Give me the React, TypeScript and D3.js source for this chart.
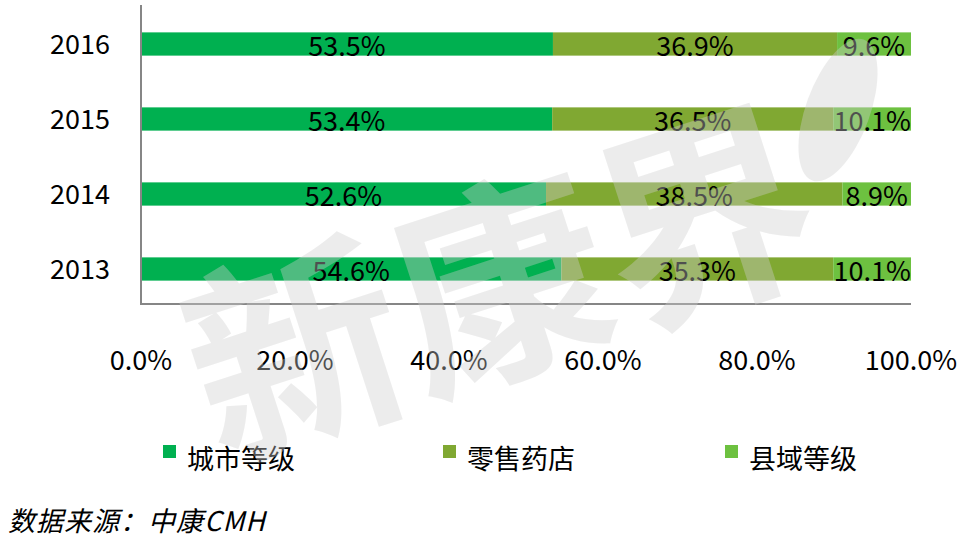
import React from "react";
import { scaleBand, scaleLinear, format } from "d3";

const years = ["2016", "2015", "2014", "2013"];
const seriesNames = ["城市等级", "零售药店", "县域等级"];
const cityLevel = [53.5, 53.4, 52.6, 54.6];
const retailPharmacy = [36.9, 36.5, 38.5, 35.3];
const countyLevel = [9.6, 10.1, 8.9, 10.1];
const tickValues = [0, 20, 40, 60, 80, 100];

const colors = ["#00B050", "#80A832", "#6DC140"];
const font = "'Noto Sans CJK SC', 'Noto Sans', sans-serif";

export default function App() {
  const width = 962;
  const height = 547;

  const xScale = scaleLinear().domain([0, 100]).range([141, 911]);
  const yScale = scaleBand()
    .domain(years)
    .range([6.5, 306.5])
    .paddingInner(0.69)
    .paddingOuter(0.345);

  const series = [cityLevel, retailPharmacy, countyLevel];
  const pct = format(".1f");

  // legend positions
  const legendX = [163, 443, 725];

  return (
    <svg
      width={width}
      height={height}
      style={{ position: "absolute", left: 0, top: 0, background: "#fff" }}
      fontFamily={font}
    >
      {/* Bars */}
      {years.map((year, i) => {
        let acc = 0;
        return (
          <g key={year}>
            {series.map((s, j) => {
              const x0 = acc;
              acc += s[i];
              const bx = xScale(x0);
              const bw = xScale(acc) - xScale(x0);
              const cy = yScale(year)! + yScale.bandwidth() / 2;
              return (
                <g key={j}>
                  <rect
                    x={bx}
                    y={yScale(year)}
                    width={bw}
                    height={yScale.bandwidth()}
                    fill={colors[j]}
                  />
                  <text
                    x={bx + bw / 2}
                    y={cy + 12}
                    textAnchor="middle"
                    fontSize={27}
                    fill="#000"
                  >
                    {pct(s[i])}%
                  </text>
                </g>
              );
            })}
          </g>
        );
      })}

      {/* Axes */}
      <line x1={141} x2={141} y1={5} y2={304} stroke="#868686" strokeWidth={2} />
      <line x1={140} x2={911} y1={304} y2={304} stroke="#868686" strokeWidth={2} />

      {/* Year labels */}
      {years.map((year) => (
        <text
          key={year}
          x={110}
          y={yScale(year)! + yScale.bandwidth() / 2 + 10}
          textAnchor="end"
          fontSize={27}
          fill="#000"
        >
          {year}
        </text>
      ))}

      {/* X tick labels */}
      {tickValues.map((v) => (
        <text
          key={v}
          x={xScale(v)}
          y={370}
          textAnchor="middle"
          fontSize={27}
          fill="#000"
        >
          {pct(v)}%
        </text>
      ))}

      {/* Legend */}
      {seriesNames.map((name, j) => (
        <g key={name}>
          <rect x={legendX[j]} y={445} width={13} height={13} fill={colors[j]} />
          <text x={legendX[j] + 24} y={469} fontSize={27} fill="#000">
            {name}
          </text>
        </g>
      ))}

      {/* Source */}
      <text x={8} y={531} fontSize={27} fontStyle="italic" fill="#000" textLength={257}>
        数据来源：中康CMH
      </text>

      {/* Watermark */}
      <g opacity={0.38} fill="#cfcfcf" pointerEvents="none">
        <text
          x={0}
          y={0}
          fontSize={215}
          fontWeight={700}
          textAnchor="middle"
          transform="translate(525,360) rotate(-18)"
        >
          新康界
        </text>
        <ellipse cx={838} cy={110} rx={32} ry={75} transform="rotate(20,838,110)" />
      </g>
    </svg>
  );
}
